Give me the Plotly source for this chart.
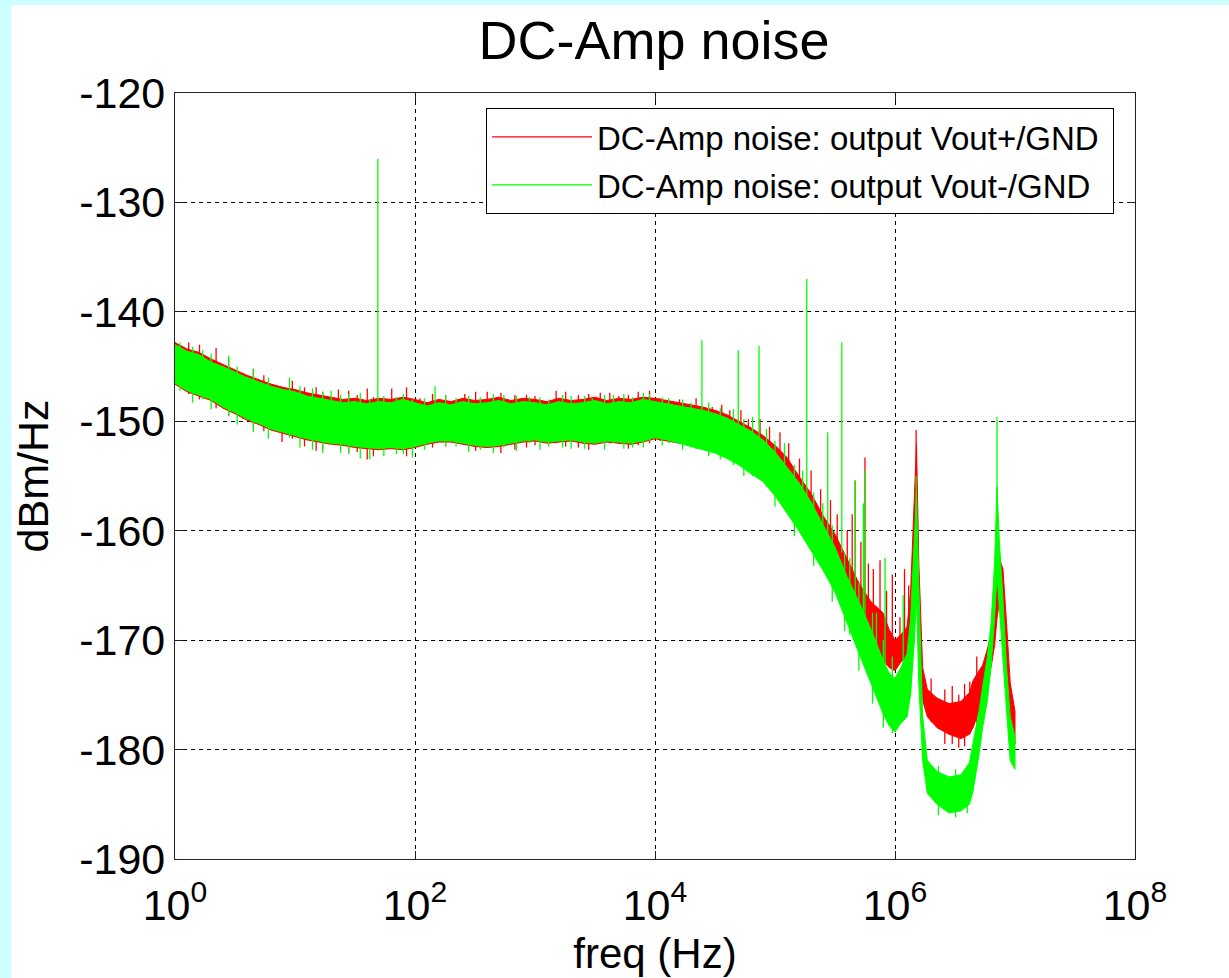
import plotly.graph_objects as go

# ---------------- data ----------------
freq = [1, 1.26, 1.58, 2.0, 2.51, 3.16, 3.98, 5.01, 6.31, 7.94,
        10, 12.6, 15.8, 20, 25.1, 31.6, 39.8, 50.1, 63.1, 79.4,
        100, 126, 158, 200, 251, 316, 398, 501, 631, 794,
        1000, 1260, 1580, 2000, 2510, 3160, 3980, 5010, 6310, 7940,
        1.0e4, 1.26e4, 1.58e4, 2.0e4, 2.51e4, 3.16e4, 3.98e4, 5.01e4, 6.31e4, 7.94e4,
        1.0e5, 1.26e5, 1.58e5, 2.0e5, 2.51e5, 3.16e5, 3.98e5, 5.01e5, 6.31e5, 7.94e5,
        8.91e5, 1.0e6, 1.12e6, 1.26e6, 1.35e6, 1.45e6, 1.51e6, 1.58e6, 1.70e6, 1.86e6,
        2.24e6, 2.82e6, 3.55e6, 4.17e6, 4.47e6, 5.01e6, 5.37e6, 5.89e6, 6.31e6, 6.76e6,
        7.08e6, 7.41e6, 7.94e6, 8.51e6, 9.12e6, 1.0e7]

# Vout-/GND (green) noise band: upper / lower envelope, dBm/Hz
green_upper = [-143.0, -143.6, -143.9, -144.6, -145.0, -145.5, -146.0, -146.4, -146.8, -147.1,
               -147.3, -147.7, -147.9, -148.1, -148.3, -148.2, -148.4, -148.2, -148.3, -148.0,
               -148.3, -148.6, -148.3, -148.5, -148.2, -148.4, -148.3, -148.1, -148.4, -148.2,
               -148.3, -148.5, -148.2, -148.4, -148.3, -148.1, -148.4, -148.2, -148.3, -148.0,
               -148.2, -148.4, -148.6, -148.8, -149.0, -149.3, -149.7, -150.3, -150.9, -151.7,
               -152.8, -154.2, -155.6, -157.4, -159.4, -161.5, -164.2, -166.5, -169.0, -171.8,
               -173.0, -173.5, -172.5, -171.2, -168.0, -160.0, -156.5, -165.0, -177.0, -181.0,
               -182.0, -182.5, -182.3, -181.2, -179.5, -176.5, -174.3, -171.5, -168.5, -163.0,
               -156.0, -161.0, -166.3, -172.5, -177.0, -178.8]
green_lower = [-146.5, -147.2, -147.6, -148.0, -148.7, -149.2, -149.8, -150.2, -150.7, -151.0,
               -151.3, -151.6, -151.8, -152.0, -152.1, -152.3, -152.4, -152.5, -152.4, -152.5,
               -152.3, -152.0, -151.8, -151.8, -152.0, -152.2, -152.3, -152.2, -152.0, -151.8,
               -151.7, -151.9, -151.8, -151.7, -151.9, -152.0, -151.8, -151.9, -152.0, -151.8,
               -151.5, -151.7, -152.0, -152.3, -152.6, -152.9, -153.4, -154.0, -154.8, -155.5,
               -156.8, -158.4, -160.0, -161.8, -163.6, -165.6, -168.4, -171.2, -174.0, -176.7,
               -177.8, -178.4, -177.6, -177.0, -175.0, -170.0, -166.0, -174.0, -181.0, -184.0,
               -185.0, -185.8, -185.6, -185.0, -183.8, -180.5, -178.0, -175.5, -172.5, -168.0,
               -164.0, -167.0, -171.8, -176.5, -181.0, -181.8]

# Vout+/GND (red) noise band: upper / lower envelope, dBm/Hz
red_upper = [-142.8, -143.4, -143.7, -144.3, -144.8, -145.3, -145.8, -146.2, -146.6, -146.9,
             -147.1, -147.4, -147.6, -147.8, -148.0, -147.9, -148.1, -147.9, -148.0, -147.8,
             -148.0, -148.3, -148.0, -148.2, -147.9, -148.1, -148.0, -147.8, -148.1, -147.9,
             -148.0, -148.2, -147.9, -148.1, -148.0, -147.8, -148.1, -147.9, -148.0, -147.8,
             -147.9, -148.1, -148.3, -148.5, -148.7, -149.0, -149.4, -150.0, -150.6, -151.3,
             -152.2, -153.3, -155.0, -156.6, -158.6, -160.3, -162.6, -164.8, -166.5, -167.5,
             -169.0, -170.0, -169.5, -168.8, -165.5, -156.0, -152.0, -163.0, -172.5, -174.5,
             -175.3, -175.8, -175.6, -174.8, -173.7, -172.8, -172.3, -170.8, -169.5, -166.5,
             -163.0, -162.5, -163.5, -168.5, -173.9, -176.5]
red_lower = [-146.6, -147.3, -147.7, -148.1, -148.8, -149.3, -149.9, -150.3, -150.8, -151.1,
             -151.4, -151.7, -151.9, -152.1, -152.2, -152.4, -152.5, -152.6, -152.5, -152.6,
             -152.4, -152.1, -151.9, -151.9, -152.1, -152.3, -152.4, -152.3, -152.1, -151.9,
             -151.8, -152.0, -151.9, -151.8, -152.0, -152.1, -151.9, -152.0, -152.1, -151.9,
             -151.6, -151.8, -152.0, -152.2, -152.4, -152.6, -153.0, -153.5, -154.1, -154.8,
             -155.8, -157.0, -158.6, -160.0, -161.8, -163.5, -165.8, -168.0, -170.3, -171.8,
             -172.5, -172.8, -172.0, -171.5, -170.0, -165.0, -160.0, -170.0, -175.5, -177.0,
             -178.0, -178.6, -179.0, -178.6, -178.0, -176.5, -175.0, -173.5, -172.5, -170.5,
             -168.0, -166.5, -167.0, -173.5, -178.2, -179.5]

# narrow spectral lines and noise tips: frequency, bottom, top (dBm/Hz)
green_spike_freq = [49, 147, 2.46e4, 4.94e4, 7.36e4, 1.84e5, 2.75e5, 3.6e5, 4.66e5, 5.45e5,
                    5.62e5, 8.26e5, 1.17e6, 1.5e6, 7.08e6,
                    1.1, 1.7, 2.8, 4.5, 9, 14, 20, 28, 42, 70, 95, 220, 350, 550, 900,
                    1300, 2000, 3000, 4500, 6500, 9000, 1.3e4, 2.0e4, 3.5e4, 5.5e4, 8.5e4,
                    1.2e5, 1.7e5, 2.5e5, 4.2e5, 7.0e5, 9.5e5, 2.3e6, 3.2e6, 4.0e6,
                    1.4, 2.0, 3.3, 6, 11, 17, 24, 35, 55, 80, 120, 180, 280, 450, 700,
                    1100, 1700, 2600, 3800, 5500, 8000, 1.15e4, 1.7e4, 2.8e4, 4.5e4, 6.5e4,
                    1.0e5, 1.45e5, 2.1e5, 3.0e5, 3.8e5, 5.0e5, 6.5e5, 8.0e5]
green_spike_lo = [-150.5, -149.5, -149.5, -151.0, -152.5, -157.0, -161.0, -162.0, -166.0, -168.5,
                  -169.0, -174.0, -175.0, -160.0, -160.0,
                  -147.2, -148.0, -149.5, -151.0, -151.5, -152.6, -152.2, -153.0, -153.5, -153.0,
                  -153.3, -152.3, -152.6, -152.4, -152.0, -152.3, -152.5, -151.9, -152.0, -152.4,
                  -151.8, -152.0, -152.4, -153.5, -155.0, -156.0, -158.0, -160.5, -163.5, -169.5,
                  -175.0, -178.5, -186.0, -186.2, -185.8,
                  -148.3, -148.9, -150.3, -151.6, -152.4, -152.9, -152.9, -153.4, -153.2, -153.0,
                  -152.6, -152.3, -152.8, -152.9, -152.7, -152.6, -152.4, -152.5, -152.6, -152.5,
                  -152.4, -152.2, -152.6, -153.2, -154.0, -155.0, -157.8, -160.5, -163.2, -166.5,
                  -169.2, -172.8, -175.8, -178.0]
green_spike_hi = [-126.0, -146.8, -142.6, -143.5, -143.1, -137.0, -151.0, -142.8, -155.4, -157.5,
                  -154.5, -162.5, -165.9, -155.0, -149.6,
                  -142.8, -143.5, -144.0, -145.2, -146.0, -147.0, -147.2, -147.5, -148.0, -147.8,
                  -148.0, -147.9, -147.8, -147.6, -147.8, -148.0, -147.7, -147.9, -147.6, -147.8,
                  -147.5, -147.9, -148.3, -148.8, -149.8, -150.7, -152.0, -154.5, -157.5, -162.5,
                  -167.5, -171.5, -181.5, -181.8, -182.0,
                  -143.2, -143.8, -145.0, -146.0, -146.8, -147.3, -147.6, -147.4, -147.7, -147.5,
                  -147.9, -147.6, -147.7, -147.5, -147.7, -147.8, -147.6, -147.7, -147.6, -147.5,
                  -147.4, -147.8, -148.0, -148.3, -148.9, -149.6, -151.8, -154.0, -156.5, -159.5,
                  -162.0, -164.8, -167.5, -170.0]

red_spike_freq = [4.66e5, 5.62e5, 7.5e5, 1.1e6, 1.5e6,
                  1.3, 2.2, 3.7, 5.5, 7.8, 12, 17, 23, 33, 45, 64, 110, 180, 260, 400,
                  680, 1000, 1500, 2300, 3500, 5000, 7250, 1.1e4, 1.6e4, 3.0e4, 4.2e4,
                  6.0e4, 9.0e4, 1.3e5, 2.0e5, 3.3e5, 6.0e5, 2.6e6, 3.4e6, 4.2e6,
                  1.6, 2.8, 4.5, 9.5, 15, 28, 40, 85, 140, 320, 520, 850, 1800, 2800,
                  4200, 6000, 9000, 2.2e4, 3.6e4, 5.2e4, 7.5e4, 1.1e5, 1.6e5, 2.4e5,
                  2.9e5, 4.0e5, 4.4e5, 5.2e5, 6.6e5, 8.5e5, 9.5e5, 1.2e6, 1.3e6, 2.0e6,
                  3.0e6, 3.8e6, 4.8e6]
red_spike_lo = [-165.0, -167.5, -170.0, -172.0, -155.0,
                -147.5, -148.8, -149.8, -150.9, -151.9, -152.3, -152.6, -152.0, -152.8, -153.2,
                -152.4, -152.0, -152.3, -151.8, -152.1, -152.6, -152.2, -152.0, -152.4, -151.9,
                -152.1, -152.2, -151.8, -152.0, -152.5, -153.5, -154.0, -155.0, -156.5, -158.5,
                -162.0, -169.0, -179.5, -179.8, -178.6,
                -148.0, -149.5, -150.5, -151.6, -152.7, -152.9, -153.5, -153.2, -152.4, -152.7,
                -152.9, -152.4, -152.3, -152.6, -152.0, -152.5, -152.0, -152.5, -153.2, -153.8,
                -154.5, -156.0, -158.0, -160.5, -161.5, -165.0, -165.5, -167.0, -169.5, -172.0,
                -172.5, -172.0, -171.5, -177.5, -179.5, -179.7, -177.5]
red_spike_hi = [-155.4, -153.3, -162.7, -167.9, -150.8,
                -142.8, -143.3, -145.6, -145.8, -146.9, -146.9, -147.3, -147.1, -147.6, -147.8,
                -147.0, -147.9, -147.6, -147.5, -147.3, -147.6, -147.7, -147.2, -147.6, -147.4,
                -147.7, -147.3, -147.9, -148.0, -148.7, -149.0, -149.8, -150.5, -152.0, -154.5,
                -158.5, -163.0, -174.5, -175.0, -173.8,
                -143.0, -144.3, -145.2, -146.3, -146.9, -147.2, -147.0, -146.9, -147.5, -147.3,
                -147.4, -147.6, -147.3, -147.5, -147.4, -147.6, -147.2, -147.9, -148.5, -149.0,
                -149.8, -151.0, -153.4, -156.2, -157.2, -160.0, -158.5, -161.0, -163.5, -165.5,
                -164.0, -163.5, -165.0, -173.5, -174.2, -174.0, -171.5]

series_names = ["DC-Amp noise: output Vout+/GND", "DC-Amp noise: output Vout-/GND"]
x_tick_vals = [1, 1e2, 1e4, 1e6, 1e8]
x_tick_text = ["10<sup>0</sup>", "10<sup>2</sup>", "10<sup>4</sup>", "10<sup>6</sup>", "10<sup>8</sup>"]
y_tick_vals = [-190, -180, -170, -160, -150, -140, -130, -120]
y_tick_text = ["-190", "-180", "-170", "-160", "-150", "-140", "-130", "-120"]

# ---------------- figure ----------------
RED = "#ff0000"
GREEN = "#00ff00"
FONT = "Liberation Sans, Arial, sans-serif"


def band(upper, lower, color, group):
    return go.Scatter(x=freq + freq[::-1], y=upper + lower[::-1], mode="lines",
                      fill="toself", fillcolor=color, line=dict(color=color, width=1),
                      hoverinfo="skip", showlegend=False, legendgroup=group)


def spikes(fr, lo, hi, color, name, group):
    xs, ys = [], []
    for f, a, b in zip(fr, lo, hi):
        xs += [f, f, None]
        ys += [a, b, None]
    return go.Scatter(x=xs, y=ys, mode="lines", line=dict(color=color, width=1.3),
                      name=name + "\u00a0", legendgroup=group, showlegend=True)


fig = go.Figure()
fig.add_trace(band(red_upper, red_lower, RED, "r"))
fig.add_trace(spikes(red_spike_freq, red_spike_lo, red_spike_hi, RED, series_names[0], "r"))
fig.add_trace(band(green_upper, green_lower, GREEN, "g"))
fig.add_trace(spikes(green_spike_freq, green_spike_lo, green_spike_hi, GREEN, series_names[1], "g"))

W, H = 1229, 978
L, R, T, B = 175, 94, 93, 119
pw, ph = W - L - R, H - T - B


def px(xp):
    return (xp - L) / pw


def py(yp):
    return 1 - (yp - T) / ph


axis_common = dict(showline=True, linecolor="#222222", linewidth=1.2, mirror="ticks",
                   ticks="inside", ticklen=8, tickcolor="#222222", automargin=False,
                   showgrid=True, gridcolor="#000000", gridwidth=1, griddash="4px,4px",
                   zeroline=False, tickfont=dict(family=FONT, size=43, color="#000000"))

fig.update_layout(
    width=W, height=H, autosize=False,
    margin=dict(l=L, r=R, t=T, b=B, pad=0, autoexpand=False),
    paper_bgcolor="#ccffff", plot_bgcolor="#ffffff",
    title=dict(text="DC-Amp noise", x=654 / W, xanchor="center", y=1 - 40 / H, yanchor="middle",
               font=dict(family=FONT, size=54, color="#000000")),
    xaxis=dict(type="log", range=[0, 8], tickvals=x_tick_vals, ticktext=x_tick_text,
               ticklabelstandoff=8,
               title=dict(text="freq (Hz)", font=dict(family=FONT, size=42, color="#000000"), standoff=10),
               **axis_common),
    yaxis=dict(range=[-190, -120], tickvals=y_tick_vals, ticktext=y_tick_text,
               title=dict(text="dBm/Hz", font=dict(family=FONT, size=43, color="#000000"), standoff=17),
               **axis_common),
    legend=dict(x=px(1114), xanchor="right", y=py(108), yanchor="top",
                bgcolor="#ffffff", bordercolor="#000000", borderwidth=1,
                font=dict(family=FONT, size=33, color="#000000"),
                itemwidth=100, tracegroupgap=2, traceorder="grouped"),
    shapes=[dict(type="rect", xref="paper", yref="paper", x0=px(11), x1=px(W + 20),
                 y0=py(H + 40), y1=py(5), fillcolor="#ffffff", line=dict(width=0), layer="below")],
    showlegend=True,
)

fig.write_html("out.html", config={"displayModeBar": False},
               post_script="document.body.style.margin='0';")
